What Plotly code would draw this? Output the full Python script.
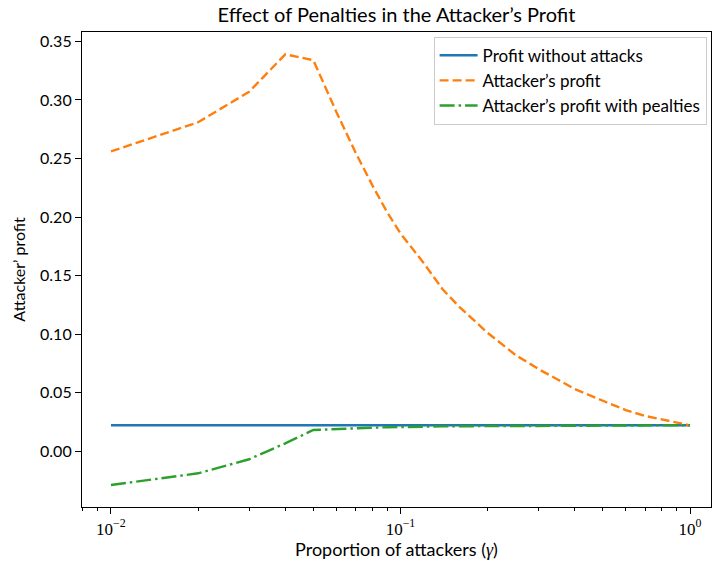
import plotly.graph_objects as go

# Proportion of attackers (gamma) and the resulting profits
gamma = [0.01, 0.02, 0.03, 0.04, 0.05, 0.06, 0.07, 0.08, 0.09, 0.10,
         0.12, 0.14, 0.16, 0.18, 0.20, 0.25, 0.30, 0.35, 0.40, 0.50,
         0.60, 0.70, 0.80, 0.90, 1.00]

profit_no_attack = [0.022] * len(gamma)

attacker_profit = [0.256, 0.281, 0.307, 0.339, 0.334, 0.290, 0.255, 0.227, 0.204, 0.186,
                   0.161, 0.138, 0.123, 0.111, 0.101, 0.082, 0.070, 0.061, 0.053, 0.043,
                   0.035, 0.030, 0.027, 0.024, 0.022]

attacker_profit_penalty = [-0.029, -0.019, -0.007, 0.0066, 0.018, 0.0190, 0.0196, 0.0200, 0.0203, 0.0206,
                           0.0209, 0.0211, 0.0212, 0.0213, 0.0214, 0.0215, 0.0216, 0.0217, 0.0217, 0.0218,
                           0.0218, 0.0219, 0.0219, 0.0220, 0.0220]

x_tickvals = [0.01, 0.1, 1.0]
x_ticktext = ["10<sup>\u22122</sup>", "10<sup>\u22121</sup>", "10<sup>0</sup>"]
y_tickvals = [0.00, 0.05, 0.10, 0.15, 0.20, 0.25, 0.30, 0.35]

# minor ticks at 2..9 x 10^n
minor_vals = [k * 10.0 ** n for n in (-3, -2, -1, 0) for k in range(2, 10)]

FONT = "Lato, 'DejaVu Sans', sans-serif"

fig = go.Figure()
fig.add_trace(go.Scatter(x=gamma, y=profit_no_attack, mode="lines",
                         name="Profit without attacks",
                         line=dict(color="#1f77b4", width=2.4)))
fig.add_trace(go.Scatter(x=gamma, y=attacker_profit, mode="lines",
                         name="Attacker\u2019s profit",
                         line=dict(color="#ff7f0e", width=2.4, dash="9px,4px")))
fig.add_trace(go.Scatter(x=gamma, y=attacker_profit_penalty, mode="lines",
                         name="Attacker\u2019s profit with pealties",
                         line=dict(color="#2ca02c", width=2.4, dash="15px,4px,2.5px,4px")))

fig.update_layout(
    width=712, height=565,
    margin=dict(l=82, r=1, t=32, b=58),
    paper_bgcolor="white", plot_bgcolor="white",
    font=dict(family=FONT, size=16, color="black"),
    title=dict(text="Effect of Penalties in the Attacker\u2019s Profit",
               x=(82 + 711) / 2 / 712, xanchor="center",
               y=1 - 15 / 565, yanchor="middle", yref="container",
               font=dict(size=20, family=FONT)),
    showlegend=True,
    legend=dict(x=0.993, y=0.99, xanchor="right", yanchor="top",
                bgcolor="rgba(255,255,255,0.8)", bordercolor="#cccccc", borderwidth=1,
                font=dict(size=17, family=FONT), itemwidth=38,
                tracegroupgap=0),
)

fig.update_xaxes(
    type="log", range=[-2.1, 0.0725],
    tickvals=x_tickvals, ticktext=x_ticktext,
    tickfont=dict(family="'Liberation Serif', serif", size=17),
    ticks="outside", ticklen=6, tickwidth=1, tickcolor="black",
    minor=dict(tickvals=minor_vals, ticks="outside", ticklen=3, tickwidth=1, tickcolor="black", showgrid=False),
    showline=True, linecolor="black", linewidth=1.2, mirror=True,
    showgrid=False, zeroline=False,
    title=dict(text="Proportion of attackers (<i style='font-family:Liberation Serif'>\u03b3</i>)",
               font=dict(size=18), standoff=5),
)
fig.update_yaxes(
    range=[-0.0478, 0.3581],
    tickvals=y_tickvals, tickformat=".2f",
    tickfont=dict(size=16),
    ticks="outside", ticklen=6, tickwidth=1, tickcolor="black",
    showline=True, linecolor="black", linewidth=1.2, mirror=True,
    showgrid=False, zeroline=False,
    title=dict(text="Attacker\u2019 profit", font=dict(size=16), standoff=10),
)

fig.write_html("out.html")
